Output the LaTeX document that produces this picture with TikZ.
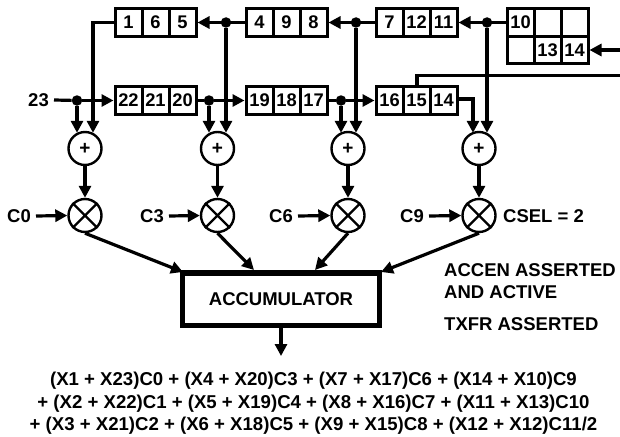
\documentclass[tikz,border=0pt]{standalone}
\usepackage{fontspec}
\setmainfont{Liberation Sans}
\usetikzlibrary{arrows.meta,calc}
\tikzset{
  x=1pt,y=-1pt,
  txt/.style={font=\bfseries\fontsize{18.5}{20}\selectfont,inner sep=0pt,text=black},
  cellbox/.style={draw=black,line width=3pt,minimum width=27pt,minimum height=27.5pt,inner sep=0pt,font=\bfseries\fontsize{18.3}{20}\selectfont},
  wire/.style={line width=3.2pt,draw=black},
  arr/.style={wire,-{Triangle[length=12pt,width=12pt]}},
  dot/.style={circle,fill=black,inner sep=0pt,minimum size=10.5pt},
  opcirc/.style={circle,draw=black,line width=2.4pt,minimum size=33pt,inner sep=0pt},
}
\begin{document}
\begin{tikzpicture}
\useasboundingbox (0,0) rectangle (620,436);
% top row
\foreach \n/\t/\x in {a1/1/128.5,a2/6/155.5,a3/5/182.5,b1/4/259.5,b2/9/286.5,b3/8/313.5,c1/7/389.5,c2/12/416.5,c3/11/443.5}
  \node[cellbox] (\n) at (\x,22.5) {\t};
% bottom row
\foreach \n/\t/\x in {d1/22/128.5,d2/21/155.5,d3/20/182.5,e1/19/259.5,e2/18/286.5,e3/17/313.5,f1/16/389.5,f2/15/416.5,f3/14/443.5}
  \node[cellbox] (\n) at (\x,100.5) {\t};
% grid
\node[cellbox] (g1) at (520.5,22.5) {10};
\node[cellbox] (g2) at (547.5,22.5) {};
\node[cellbox] (g3) at (574.5,22.5) {};
\node[cellbox] (g4) at (520.5,50) {};
\node[cellbox] (g5) at (547.5,50) {13};
\node[cellbox] (g6) at (574.5,50) {14};
% adders and multipliers
\foreach \n/\x in {p0/85,p1/217.5,p2/348,p3/479} {
  \node[opcirc,font=\bfseries\fontsize{19}{20}\selectfont] (\n) at (\x,148.5) {+};
}
\foreach \n/\x in {m0/85,m1/217.5,m2/348,m3/479} {
  \node[opcirc] (\n) at (\x,215.5) {};
  \draw[line width=2.4pt] (\n.45) -- (\n.225) (\n.135) -- (\n.315);
}
\node[draw=black,line width=5.5pt,minimum width=197pt,minimum height=52.5pt,inner sep=0pt,font=\bfseries\fontsize{18.5}{20}\selectfont] (acc) at (281,299) {ACCUMULATOR};
% junctions
\node[dot] (jt1) at (226,22.5) {};
\node[dot] (jt2) at (356,22.5) {};
\node[dot] (jt3) at (487,22.5) {};
\node[dot] (jb0) at (77,100.5) {};
\node[dot] (jb1) at (209,100.5) {};
\node[dot] (jb2) at (341,100.5) {};
% labels
\node[txt,anchor=east] (l23) at (49,100) {23};
\node[txt,anchor=east] (lc0) at (31,216) {C0};
\node[txt,anchor=east] (lc3) at (164,216) {C3};
\node[txt,anchor=east] (lc6) at (293,216) {C6};
\node[txt,anchor=east] (lc9) at (424,216) {C9};
\node[txt,anchor=west] (lcs) at (503,216) {CSEL = 2};
\node[txt,anchor=west] (la1) at (444,270) {ACCEN ASSERTED};
\node[txt,anchor=west] (la2) at (444,292) {AND ACTIVE};
\node[txt,anchor=west] (la3) at (444,324) {TXFR ASSERTED};
\node[txt,align=center,font=\bfseries\fontsize{18.6}{22.5}\selectfont,anchor=center] (eq) at (313.5,403.5)
 {(X1 + X23)C0 + (X4 + X20)C3 + (X7 + X17)C6 + (X14 + X10)C9\\
  + (X2 + X22)C1 + (X5 + X19)C4 + (X8 + X16)C7 + (X11 + X13)C10\\
  + (X3 + X21)C2 + (X6 + X18)C5 + (X9 + X15)C8 + (X12 + X12)C11/2};
% free ends
\coordinate (inr) at (620,50);
\coordinate (outr) at (620,75.5);
\coordinate (tap) at (417,75.5);
\coordinate (k0) at (93,22.5);
\coordinate (k3) at (473,99);
\coordinate (outb) at (281,356);
% top-row arrows
\draw[arr] (b1.west) -- (a3.east);
\draw[arr] (c1.west) -- (b3.east);
\draw[arr] (g1.west) -- (c3.east);
\draw[arr] (inr) -- (g6.east);
\draw[wire] (outr) -- (tap) -- (tap |- f2.north);
% bottom row arrows
\draw[wire] (l23.east) ++(5,0) -- (jb0);
\draw[arr] (jb0) -- (d1.west);
\draw[wire] (d3.east) -- (jb1);
\draw[arr] (jb1) -- (e1.west);
\draw[wire] (e3.east) -- (jb2);
\draw[arr] (jb2) -- (f1.west);
% into adders
\draw[arr] (a1.west) -- (k0) -- ($(k0 |- p0.north)+(0,2)$);
\draw[arr] (jb0) -- ($(jb0 |- p0.north)+(0,2)$);
\draw[arr] (jt1) -- ($(jt1 |- p1.north)+(0,2)$);
\draw[arr] (jb1) -- ($(jb1 |- p1.north)+(0,2)$);
\draw[arr] (jt2) -- ($(jt2 |- p2.north)+(0,2)$);
\draw[arr] (jb2) -- ($(jb2 |- p2.north)+(0,2)$);
\draw[arr] (jt3) -- ($(jt3 |- p3.north)+(0,2)$);
\draw[arr] (f3.east |- k3) -- (k3) -- ($(k3 |- p3.north)+(0,2)$);
% adders to multipliers
\foreach \i in {0,1,2,3} \draw[arr] (p\i.south) -- (m\i.north);
% coefficient inputs
\draw[arr] (lc0.east) ++(5,0) -- (m0.west);
\draw[arr] (lc3.east) ++(5,0) -- (m1.west);
\draw[arr] (lc6.east) ++(5,0) -- (m2.west);
\draw[arr] (lc9.east) ++(5,0) -- (m3.west);
% to accumulator
\draw[arr] (m0.south) -- (183,272);
\draw[arr] (m1.south) -- (254,270);
\draw[arr] (m2.south) -- (315,270);
\draw[arr] (m3.south) -- (381,272);
\draw[arr] (acc.south) -- (outb);
\end{tikzpicture}
\end{document}
